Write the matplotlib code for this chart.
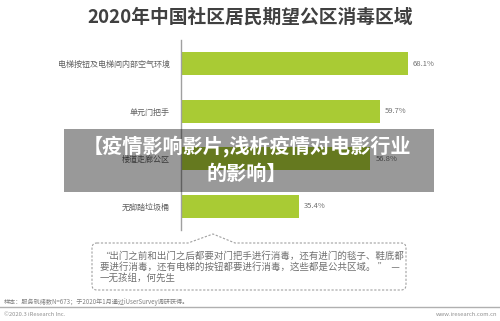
import matplotlib.pyplot as plt
import matplotlib.patches as patches
from matplotlib.path import Path

plt.rcParams['font.family'] = ['Noto Sans CJK SC', 'DejaVu Sans']

categories = ['电梯按钮及电梯间内部空气环境', '单元门把手', '楼道走廊公区', '无脚踏垃圾桶']
values = [68.1, 59.7, 56.8, 35.4]
value_labels = ['68.1%', '59.7%', '56.8%', '35.4%']

title = '2020年中国社区居民期望公区消毒区域'
overlay = '【疫情影响影片,浅析疫情对电影行业\n的影响】'
quote_lines = ['“出门之前和出门之后都要对门把手进行消毒，还有进门的毯子、鞋底都',
               '要进行消毒，还有电梯的按钮都要进行消毒，这些都是公共区域。 ”  —',
               '一无孩组，何先生']
source = '样本：服务就绪数N=673；于2020年1月通过iUserSurvey调研获得。'
copyright_txt = '©2020.3 iResearch Inc.'
site = 'www.iresearch.com.cn'

W, H = 500, 321
fig = plt.figure(figsize=(W / 100, H / 100), dpi=100)
fig.patch.set_facecolor('white')

def fx(px):
    return px / W

def fy(py):
    return 1 - py / H

ax = fig.add_axes([fx(181), fy(230), fx(490) - fx(181), fy(40) - fy(230)])
ypos = list(range(len(categories)))
ax.barh(ypos, values, height=0.49, color='#a9cb34', zorder=2)
ax.set_xlim(0, 92.7)
ax.set_ylim(3.5, -0.5)
for y, v, lab in zip(ypos, values, value_labels):
    ax.text(v + 1.5, y, lab, va='center', ha='left', fontsize=5.5, color='#707070')
ax.set_yticks(ypos)
ax.set_yticklabels(categories, fontsize=5.8, color='#606060')
ax.tick_params(axis='y', length=0, pad=8)
ax.set_xticks([])
for s in ['top', 'right', 'bottom']:
    ax.spines[s].set_visible(False)
ax.spines['left'].set_color('#a0a0a0')
ax.spines['left'].set_linewidth(1)

fig.text(0.5, fy(17), title, ha='center', va='center', fontsize=13.5,
         fontweight='bold', color='#404040')

# speech bubble (dashed) below the chart
L, R, T, B, r = 92, 406, 243, 290, 5
pts = [(L + r, T), (188, T), (213, 234), (235, T), (R - r, T), (R, T), (R, T + r),
       (R, B - r), (R, B), (R - r, B), (L + r, B), (L, B), (L, B - r),
       (L, T + r), (L, T), (L + r, T)]
codes = [Path.MOVETO, Path.LINETO, Path.LINETO, Path.LINETO, Path.LINETO,
         Path.CURVE3, Path.CURVE3, Path.LINETO, Path.CURVE3, Path.CURVE3,
         Path.LINETO, Path.CURVE3, Path.CURVE3, Path.LINETO, Path.CURVE3, Path.CURVE3]
bubble = Path([(fx(a), fy(b)) for a, b in pts], codes)
fig.patches.append(patches.PathPatch(bubble, transform=fig.transFigure, fill=False,
                                     edgecolor='#a0a0a0', linewidth=0.8,
                                     linestyle=(0, (2, 1.5))))
for i, line in enumerate(quote_lines):
    fig.text(fx(100), fy(256 + 11 * i), line, ha='left', va='center',
             fontsize=6.8, color='#707070')

# footer
fig.text(fx(4), fy(302), source, ha='left', va='center', fontsize=4.4, color='#808080')
fig.add_artist(plt.Line2D([0, 1], [fy(306.5), fy(306.5)], transform=fig.transFigure,
                          color='#b0b0b0', linewidth=1))
fig.text(fx(4), fy(314), copyright_txt, ha='left', va='center', fontsize=4.2, color='#909090')
fig.text(fx(497), fy(314), site, ha='right', va='center', fontsize=4.2, color='#909090')

# grey banner overlay
fig.patches.append(patches.Rectangle((fx(64), fy(192)), fx(434) - fx(64), fy(129) - fy(192),
                                     transform=fig.transFigure, facecolor='black',
                                     alpha=0.4, edgecolor='none', zorder=5))
fig.text(fx(247), fy(159.5), overlay, ha='center', va='center', fontsize=14.5,
         fontweight='bold', color='white', linespacing=1.3, zorder=6)

fig.savefig('out.png', dpi=100)
